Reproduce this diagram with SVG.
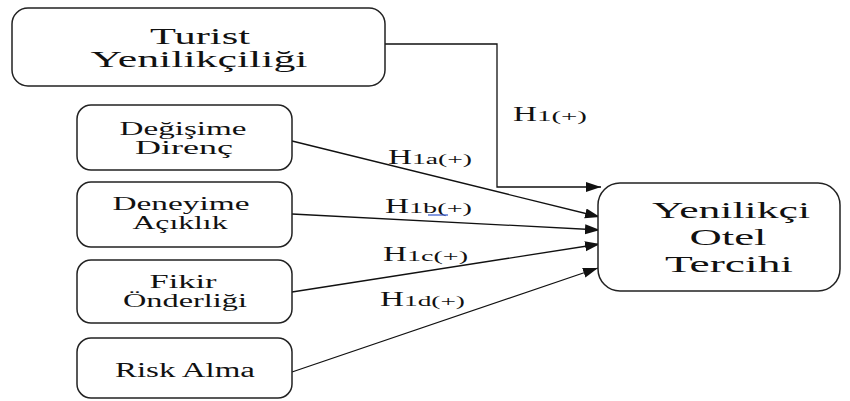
<svg xmlns="http://www.w3.org/2000/svg" width="850" height="401" viewBox="0 0 850 401">
<defs>
<style>
.box{fill:#fff;stroke:#222;stroke-width:1.5}
.t{fill:#111;text-anchor:middle}
.l{fill:#111}
.c{fill:none;stroke:#111;stroke-width:1.3}
</style>
<marker id="ah" markerUnits="userSpaceOnUse" markerWidth="16" markerHeight="12" refX="15" refY="5" orient="auto">
<path d="M0,0 L15,5 L0,10 Z" fill="#111"/>
</marker>
</defs>
<rect width="850" height="401" fill="#fff"/>
<g id="connectors">
<polyline class="c" points="385,44 497,44 497,187 601,187" marker-end="url(#ah)"/>
<line class="c" x1="292" y1="141" x2="600" y2="217" marker-end="url(#ah)"/>
<line class="c" x1="292" y1="214" x2="600" y2="230" marker-end="url(#ah)"/>
<line class="c" x1="292" y1="292" x2="600" y2="244" marker-end="url(#ah)"/>
<line class="c" x1="292" y1="372" x2="598" y2="268" marker-end="url(#ah)"/>
</g>
<g id="labels" font-family="Liberation Serif, DejaVu Serif, serif">
<text class="l" x="513" y="121" font-size="21" textLength="24" lengthAdjust="spacingAndGlyphs">H</text>
<text class="l" x="537" y="121" font-size="14" textLength="50" lengthAdjust="spacingAndGlyphs">1(+)</text>
<text class="l" x="388" y="164" font-size="21" textLength="24" lengthAdjust="spacingAndGlyphs">H</text>
<text class="l" x="412" y="164" font-size="14" textLength="60" lengthAdjust="spacingAndGlyphs">1a(+)</text>
<text class="l" x="385" y="213" font-size="21" textLength="24" lengthAdjust="spacingAndGlyphs">H</text>
<text class="l" x="409" y="213" font-size="14" textLength="63" lengthAdjust="spacingAndGlyphs">1b(+)</text>
<line x1="428" y1="215" x2="448" y2="215" stroke="#3355cc" stroke-width="1.2"/>
<text class="l" x="383" y="261" font-size="21" textLength="24" lengthAdjust="spacingAndGlyphs">H</text>
<text class="l" x="407" y="261" font-size="14" textLength="61" lengthAdjust="spacingAndGlyphs">1c(+)</text>
<text class="l" x="380" y="306" font-size="21" textLength="24" lengthAdjust="spacingAndGlyphs">H</text>
<text class="l" x="404" y="306" font-size="14" textLength="61" lengthAdjust="spacingAndGlyphs">1d(+)</text>
</g>
<g id="turist" font-family="Liberation Serif, DejaVu Serif, serif">
<rect class="box" x="12" y="8" width="373" height="78" rx="16"/>
<text class="t" x="200" y="44" font-size="23" textLength="100" lengthAdjust="spacingAndGlyphs">Turist</text>
<text class="t" x="199" y="67" font-size="23" textLength="217" lengthAdjust="spacingAndGlyphs">Yenilikçiliği</text>
</g>
<g id="degisime" font-family="Liberation Serif, DejaVu Serif, serif">
<rect class="box" x="77" y="105" width="215" height="65" rx="14"/>
<text class="t" x="183" y="135" font-size="18" textLength="127" lengthAdjust="spacingAndGlyphs">Değişime</text>
<text class="t" x="184" y="154" font-size="18" textLength="98" lengthAdjust="spacingAndGlyphs">Direnç</text>
</g>
<g id="deneyime" font-family="Liberation Serif, DejaVu Serif, serif">
<rect class="box" x="77" y="182" width="215" height="65" rx="14"/>
<text class="t" x="181" y="210" font-size="18" textLength="137" lengthAdjust="spacingAndGlyphs">Deneyime</text>
<text class="t" x="180" y="229" font-size="18" textLength="95" lengthAdjust="spacingAndGlyphs">Açıklık</text>
</g>
<g id="fikir" font-family="Liberation Serif, DejaVu Serif, serif">
<rect class="box" x="77" y="260" width="215" height="63" rx="14"/>
<text class="t" x="183" y="288" font-size="18" textLength="67" lengthAdjust="spacingAndGlyphs">Fikir</text>
<text class="t" x="185" y="307" font-size="18" textLength="124" lengthAdjust="spacingAndGlyphs">Önderliği</text>
</g>
<g id="risk" font-family="Liberation Serif, DejaVu Serif, serif">
<rect class="box" x="77" y="338" width="215" height="60" rx="14"/>
<text class="t" x="185" y="377" font-size="20" textLength="140" lengthAdjust="spacingAndGlyphs">Risk Alma</text>
</g>
<g id="yenilikci" font-family="Liberation Serif, DejaVu Serif, serif">
<rect class="box" x="598" y="183" width="242" height="108" rx="22"/>
<text class="t" x="731" y="218" font-size="24" textLength="158" lengthAdjust="spacingAndGlyphs">Yenilikçi</text>
<text class="t" x="728" y="245" font-size="24" textLength="77" lengthAdjust="spacingAndGlyphs">Otel</text>
<text class="t" x="729" y="272" font-size="24" textLength="128" lengthAdjust="spacingAndGlyphs">Tercihi</text>
</g>
</svg>
